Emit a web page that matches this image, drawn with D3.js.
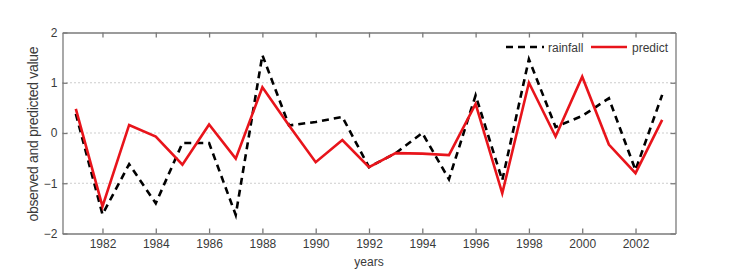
<!DOCTYPE html>
<html><head><meta charset="utf-8">
<script src="https://cdn.jsdelivr.net/npm/d3@7"></script>
<style>body{margin:0;background:#fff;} text{font-family:Arial,"Liberation Sans",sans-serif;}</style>
</head><body>
<svg id="c" width="735" height="275"></svg>
<script>
const years = d3.range(1981, 2004);
const rainfall = [0.38,-1.62,-0.62,-1.4,-0.2,-0.2,-1.63,1.55,0.15,0.22,0.32,-0.68,-0.4,0.0,-0.92,0.75,-0.94,1.47,0.12,0.34,0.69,-0.74,0.76];
const predict  = [0.48,-1.46,0.16,-0.07,-0.63,0.17,-0.51,0.91,0.15,-0.58,-0.14,-0.68,-0.4,-0.41,-0.44,0.58,-1.2,1.0,-0.07,1.12,-0.23,-0.8,0.26];
const xTicks = d3.range(1982, 2003, 2);
const yTicks = [-2,-1,0,1,2];
const gridVals = [-1,0,1];
const legendLabels = ["rainfall","predict"];

const svg = d3.select("#c");
const L=62.5, R=675.5, T=32.5, B=233.5;
const x = d3.scaleLinear().domain([1980.5,2003.5]).range([L,R]);
const y = d3.scaleLinear().domain([-2,2]).range([B,T]);
const axisCol="#7a7a7a", textCol="#3a3a3a";

// grid
svg.append("g").selectAll("line").data(gridVals).join("line")
  .attr("x1",L).attr("x2",R).attr("y1",d=>y(d)).attr("y2",d=>y(d))
  .attr("stroke","#9a9a9a").attr("stroke-width",1).attr("stroke-dasharray","1,3");

// axes
const ax = svg.append("g");
const xb = d3.axisBottom(x).tickValues(xTicks).tickFormat(d3.format("d")).tickSizeInner(-5).tickSizeOuter(0).tickPadding(6);
const xt = d3.axisTop(x).tickValues(xTicks).tickFormat("").tickSizeInner(-5).tickSizeOuter(0);
const yl = d3.axisLeft(y).tickValues(yTicks).tickFormat(d3.format("d")).tickSizeInner(-5).tickSizeOuter(0).tickPadding(5);
const yr = d3.axisRight(y).tickValues(yTicks).tickFormat("").tickSizeInner(-5).tickSizeOuter(0);
[[xb,`translate(0,${B})`],[xt,`translate(0,${T})`],[yl,`translate(${L},0)`],[yr,`translate(${R},0)`]].forEach(([a,t])=>{
  const g = ax.append("g").attr("transform",t).call(a);
  g.selectAll("path,line").attr("stroke",axisCol).attr("stroke-width",1.3);
  g.selectAll("text").attr("fill",textCol).attr("font-size",12).attr("font-family","Arial,'Liberation Sans',sans-serif");
});

// lines
const line = (arr)=>d3.line().x((d,i)=>x(years[i])).y(d=>y(d))(arr);
svg.append("path").attr("d",line(rainfall)).attr("fill","none").attr("stroke","#000")
  .attr("stroke-width",2.6).attr("stroke-dasharray","7,5");
svg.append("path").attr("d",line(predict)).attr("fill","none").attr("stroke","#e8141b")
  .attr("stroke-width",2.6).attr("stroke-linejoin","miter");

// legend
const lg = svg.append("g");
const ly = 47;
lg.append("line").attr("x1",506).attr("x2",544).attr("y1",ly).attr("y2",ly).attr("stroke","#000").attr("stroke-width",2.6).attr("stroke-dasharray","7,5");
lg.append("text").attr("x",548).attr("y",ly+4.5).text(legendLabels[0]).attr("font-size",12).attr("fill",textCol);
lg.append("line").attr("x1",591).attr("x2",627).attr("y1",ly).attr("y2",ly).attr("stroke","#e8141b").attr("stroke-width",2.6);
lg.append("text").attr("x",632).attr("y",ly+4.5).text(legendLabels[1]).attr("font-size",12).attr("fill",textCol);

// axis labels
svg.append("text").attr("x",369).attr("y",266).attr("text-anchor","middle").attr("font-size",12).attr("fill",textCol).text("years");
svg.append("text").attr("transform",`translate(38,134) rotate(-90)`).attr("text-anchor","middle").attr("font-size",14).attr("textLength",175).attr("fill",textCol).text("observed and predicted value");
</script>
</body></html>
